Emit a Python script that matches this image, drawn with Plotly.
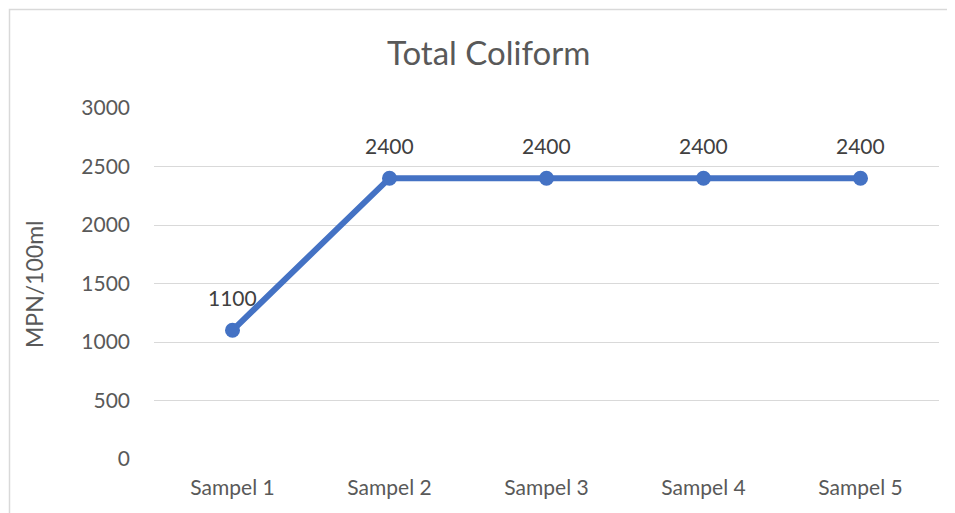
import plotly.graph_objects as go

categories = ["Sampel 1", "Sampel 2", "Sampel 3", "Sampel 4", "Sampel 5"]
values = [1100, 2400, 2400, 2400, 2400]
y_ticks = [0, 500, 1000, 1500, 2000, 2500, 3000]
title_text = "Total Coliform"
y_title = "MPN/100ml"

FONT = "Lato, Liberation Sans, Arial, sans-serif"
OFF = 8  # page body margin offset
W, H = 955 - OFF, 513 - OFF
ml, mr, mt, mb = 154 - OFF, 16, 108 - OFF, 54
pw, ph = W - ml - mr, H - mt - mb

def px_x(p):
    return (p - OFF - ml) / pw

def px_y(p):
    return (H - mb - (p - OFF)) / ph

fig = go.Figure()
fig.add_trace(go.Scatter(
    x=categories, y=values, mode="lines+markers",
    line=dict(color="#4472C4", width=6),
    marker=dict(color="#4472C4", size=15),
    cliponaxis=False, hoverinfo="skip", showlegend=False,
))

annotations = [dict(text=title_text, xref="paper", yref="paper",
                    x=px_x(488), y=px_y(52), xanchor="center", yanchor="middle",
                    showarrow=False, font=dict(size=33, color="#595959", family=FONT)),
               dict(text=y_title, xref="paper", yref="paper", textangle=-90,
                    x=px_x(34), y=px_y(284), xanchor="center", yanchor="middle",
                    showarrow=False, font=dict(size=23, color="#595959", family=FONT))]
for c, v in zip(categories, values):
    annotations.append(dict(text=str(v), x=c, y=v, xref="x", yref="y",
                            yshift=33, showarrow=False, xanchor="center", yanchor="middle",
                            font=dict(size=21, color="#404040", family=FONT)))

fig.update_layout(
    width=W, height=H,
    margin=dict(l=ml, r=mr, t=mt, b=mb),
    paper_bgcolor="white", plot_bgcolor="white",
    font=dict(family=FONT, color="#595959"),
    showlegend=False,
    xaxis=dict(range=[-0.5, len(categories) - 0.5], showgrid=False, showline=False,
               zeroline=False, ticks="",
               tickfont=dict(size=21, color="#595959"), ticklabelstandoff=14),
    yaxis=dict(range=[0, 3000], tickvals=y_ticks, showgrid=True,
               gridcolor="#D9D9D9", gridwidth=1.3, zeroline=False,
               showline=False, ticks="", tickfont=dict(size=21, color="#595959"),
               ticklabelstandoff=23),
    annotations=annotations,
    shapes=[dict(type="rect", xref="paper", yref="paper",
                 x0=px_x(9.5), x1=px_x(975), y0=px_y(530), y1=px_y(9.5),
                 line=dict(color="#D9D9D9", width=1.5), layer="below")],
)

fig.write_html("out.html")
